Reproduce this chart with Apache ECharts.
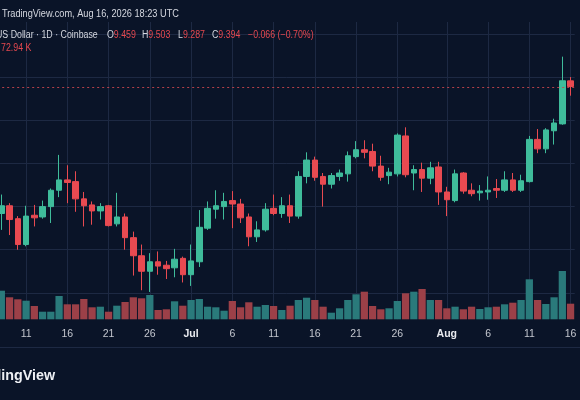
<!DOCTYPE html>
<html><head><meta charset="utf-8">
<script src="https://cdn.jsdelivr.net/npm/echarts@6/dist/echarts.min.js"></script>
<style>html,body{margin:0;padding:0;background:#0a1428;}#c{width:580px;height:400px;}</style>
</head><body><div id="c"></div>
<script>
const dates = [
 '2026-06-08','2026-06-09','2026-06-10','2026-06-11','2026-06-12','2026-06-13','2026-06-14','2026-06-15','2026-06-16','2026-06-17',
 '2026-06-18','2026-06-19','2026-06-20','2026-06-21','2026-06-22','2026-06-23','2026-06-24','2026-06-25','2026-06-26','2026-06-27',
 '2026-06-28','2026-06-29','2026-06-30','2026-07-01','2026-07-02','2026-07-03','2026-07-04','2026-07-05','2026-07-06','2026-07-07',
 '2026-07-08','2026-07-09','2026-07-10','2026-07-11','2026-07-12','2026-07-13','2026-07-14','2026-07-15','2026-07-16','2026-07-17',
 '2026-07-18','2026-07-19','2026-07-20','2026-07-21','2026-07-22','2026-07-23','2026-07-24','2026-07-25','2026-07-26','2026-07-27',
 '2026-07-28','2026-07-29','2026-07-30','2026-07-31','2026-08-01','2026-08-02','2026-08-03','2026-08-04','2026-08-05','2026-08-06',
 '2026-08-07','2026-08-08','2026-08-09','2026-08-10','2026-08-11','2026-08-12','2026-08-13','2026-08-14','2026-08-15','2026-08-16'
];
const opens = [
 7.92,8.01,7.86,7.56,7.90,7.88,8.00,8.19,8.31,8.29,
 8.09,8.02,7.95,8.01,7.80,7.88,7.64,7.43,7.25,7.36,
 7.32,7.29,7.40,7.21,7.36,7.75,7.97,8.00,8.07,8.03,
 7.88,7.65,7.73,7.98,7.92,8.01,7.89,8.35,8.54,8.35,
 8.26,8.35,8.38,8.58,8.66,8.64,8.47,8.36,8.38,8.82,
 8.39,8.43,8.33,8.46,8.17,8.07,8.39,8.19,8.16,8.17,
 8.21,8.19,8.31,8.19,8.29,8.78,8.67,8.88,8.96,9.459
];
const closes = [
 8.01,7.85,7.56,7.89,7.87,8.00,8.19,8.31,8.28,8.09,
 8.01,7.95,8.00,7.78,7.88,7.64,7.43,7.25,7.36,7.31,
 7.28,7.39,7.21,7.37,7.76,7.98,8.01,8.06,8.03,7.87,
 7.65,7.73,7.97,7.92,8.01,7.89,8.35,8.54,8.34,8.26,
 8.36,8.39,8.59,8.66,8.63,8.47,8.34,8.40,8.83,8.37,
 8.43,8.33,8.45,8.17,8.08,8.38,8.18,8.15,8.18,8.19,
 8.19,8.31,8.19,8.30,8.78,8.67,8.89,8.97,9.46,9.394
];
const lows = [
 7.73,7.67,7.50,7.54,7.77,7.86,7.81,8.11,8.04,7.94,
 7.77,7.79,7.85,7.77,7.77,7.50,7.20,7.03,7.01,7.21,
 7.16,7.18,7.12,7.08,7.30,7.73,7.86,7.85,7.75,7.81,
 7.54,7.59,7.71,7.90,7.87,7.81,7.86,8.27,8.30,8.00,
 8.21,8.30,8.29,8.56,8.56,8.41,8.30,8.26,8.35,8.34,
 8.19,8.17,8.26,8.02,7.89,8.05,8.15,8.12,8.07,8.08,
 8.10,8.17,8.17,8.17,8.28,8.62,8.62,8.72,8.95,9.287
];
const highs = [
 8.14,8.04,7.89,8.01,8.02,8.07,8.21,8.60,8.48,8.41,
 8.17,8.06,8.04,8.02,8.16,7.92,7.71,7.56,7.46,7.48,
 7.37,7.51,7.42,7.56,7.96,8.06,8.19,8.16,8.18,8.09,
 7.92,7.83,8.04,8.14,8.11,8.14,8.41,8.63,8.58,8.39,
 8.39,8.43,8.64,8.76,8.77,8.73,8.59,8.45,8.85,8.92,
 8.48,8.51,8.52,8.52,8.23,8.43,8.40,8.27,8.25,8.35,
 8.32,8.41,8.39,8.37,8.82,8.90,8.91,9.02,9.74,9.503
];
const volumesK = [
 133.7,102.9,93.5,87.0,62.2,35.5,35.5,109.0,70.1,70.1,
 94.9,56.1,58.9,35.5,63.6,80.9,102.9,98.2,113.6,43.5,
 46.8,84.2,63.6,90.2,94.9,58.9,56.1,40.2,85.6,56.1,
 79.5,58.9,66.9,62.2,43.5,63.6,90.2,101.0,90.2,58.9,
 30.9,51.4,90.2,116.9,129.1,62.2,46.8,51.4,85.6,121.6,
 129.1,141.7,90.2,90.2,51.4,58.9,46.8,58.9,48.2,56.1,
 58.9,70.1,77.6,90.2,187.0,90.2,71.5,102.9,225.9,72.94
];
const tickDays = [1, 6, 11, 16, 21, 26];
const monthNames = ['Jan','Feb','Mar','Apr','May','Jun','Jul','Aug','Sep','Oct','Nov','Dec'];

const BG = '#0a1428', GRID = '#1d2943', UP = '#3fbc9b', DOWN = '#e84a51';
const VUP = '#2a7a7b', VDOWN = '#9c4048', TXT = '#d5d8e0', RED = '#e5484f';

const dayOf = d => parseInt(d.slice(8), 10);
const isTick = (i, v) => tickDays.indexOf(dayOf(v)) >= 0;

const candleData = opens.map((o, i) => [o, closes[i], lows[i], highs[i]]);
const volData = volumesK.map((v, i) => ({
  value: v,
  itemStyle: { color: closes[i] >= opens[i] ? VUP : VDOWN }
}));

const n = closes.length;
const lastO = opens[n-1], lastH = highs[n-1], lastL = lows[n-1], lastC = closes[n-1];
const chg = lastC - closes[n-2];
const pct = chg / closes[n-2] * 100;
const chgTxt = (chg < 0 ? '\u2212' : '+') + Math.abs(chg).toFixed(3) +
  ' (' + (pct < 0 ? '\u2212' : '+') + Math.abs(pct).toFixed(2) + '%)';

const F = '"Liberation Sans", Arial, sans-serif';
const FS = '10px ' + F;
const txt = (x, y, text, fill, sx) => ({
  type: 'text', x: x, y: y, scaleX: sx, silent: true, z: 100,
  style: { text: text, fill: fill, font: FS, verticalAlign: 'middle', align: 'left' }
});
const pair = (x, y, lbl, val, sx) => ({
  type: 'text', x: x, y: y, scaleX: sx, silent: true, z: 100,
  style: { text: '{w|' + lbl + '}{r|' + val + '}', verticalAlign: 'middle', font: FS,
    rich: { w: { fill: TXT, font: FS }, r: { fill: RED, font: FS } } }
});

const chart = echarts.init(document.getElementById('c'), null, { renderer: 'canvas' });
chart.setOption({
  backgroundColor: BG,
  animation: false,
  grid: [
    { left: -2.8, top: 22, width: 577.5, height: 313.9, outerBoundsMode: 'none' },
    { left: -2.8, top: 22, width: 577.5, height: 297.3, outerBoundsMode: 'none' }
  ],
  xAxis: [
    { type: 'category', gridIndex: 0, data: dates, boundaryGap: true, show: false },
    { type: 'category', gridIndex: 1, data: dates, boundaryGap: true,
      axisLine: { show: false }, axisTick: { show: false, alignWithLabel: true },
      axisLabel: {
        interval: isTick, color: '#c4c7cf', fontSize: 10.5, margin: 9, fontFamily: F,
        formatter: v => {
          const d = dayOf(v);
          if (d === 1) return '{b|' + monthNames[parseInt(v.slice(5, 7), 10) - 1] + '}';
          return String(d);
        },
        rich: { b: { color: '#e8eaef', fontWeight: 'bold', fontSize: 10.5, fontFamily: F } }
      },
      splitLine: { show: true, interval: isTick, alignWithLabel: true, lineStyle: { color: GRID, width: 1 } }
    }
  ],
  yAxis: [
    { type: 'value', gridIndex: 0, min: 6.5, max: 10.142, interval: 0.5, position: 'right',
      axisLabel: { show: false }, axisLine: { show: false }, axisTick: { show: false },
      splitLine: { show: true, showMinLine: false, showMaxLine: false, lineStyle: { color: GRID, width: 1 } } },
    { type: 'value', gridIndex: 1, min: 0, max: 1390, show: false, splitLine: { show: false } }
  ],
  series: [
    { type: 'bar', xAxisIndex: 1, yAxisIndex: 1, data: volData, barWidth: '88%', z: 1, silent: true },
    { type: 'candlestick', xAxisIndex: 0, yAxisIndex: 0, data: candleData, barWidth: 6, z: 3, silent: true,
      itemStyle: { color: UP, color0: DOWN, borderColor: UP, borderColor0: DOWN, borderWidth: 1 },
      markLine: {
        silent: true, symbol: 'none', label: { show: false },
        lineStyle: { color: '#c9454c', type: [2, 3], width: 1, opacity: 0.9 },
        data: [{ yAxis: lastC }]
      }
    }
  ],
  graphic: [
    { type: 'line', silent: true, shape: { x1: 0, y1: 347.5, x2: 580, y2: 347.5 }, style: { stroke: GRID, lineWidth: 1 } },
    txt(2, 14, 'TradingView.com, Aug 16, 2026 18:23 UTC', TXT, 0.92),
    txt(-4, 35, 'US Dollar \u00b7 1D \u00b7 Coinbase', TXT, 0.88),
    pair(107, 35, 'O', lastO.toFixed(3), 0.88),
    pair(142, 35, 'H', lastH.toFixed(3), 0.88),
    pair(178, 35, 'L', lastL.toFixed(3), 0.88),
    pair(212, 35, 'C', lastC.toFixed(3), 0.88),
    txt(248, 35, chgTxt, RED, 0.88),
    txt(1, 48, volumesK[n-1].toFixed(2) + ' K', RED, 0.88),
    { type: 'text', x: 55, y: 376, silent: true, z: 100,
      style: { text: 'TradingView', fill: '#eef0f4', font: 'bold 14.3px ' + F, verticalAlign: 'middle', align: 'right' } }
  ]
});
</script>
</body></html>
